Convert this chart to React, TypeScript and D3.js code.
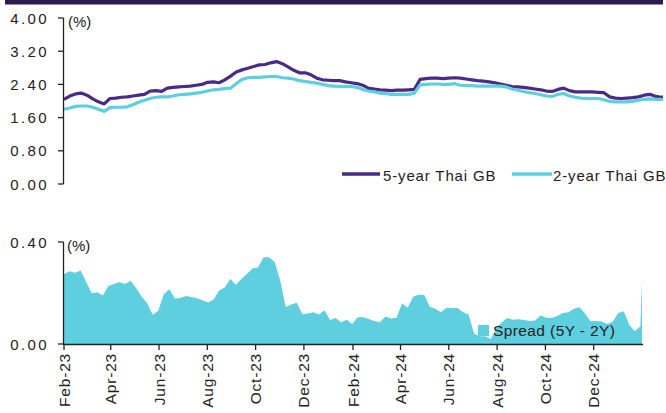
import React from "react";
import * as d3 from "d3";

const dates: string[] = [
  "2023-02-01","2023-02-08","2023-02-15","2023-02-22",
  "2023-03-01","2023-03-08","2023-03-15","2023-03-22","2023-03-29",
  "2023-04-05","2023-04-12","2023-04-19","2023-04-26",
  "2023-05-03","2023-05-10","2023-05-17","2023-05-24","2023-05-31",
  "2023-06-07","2023-06-14","2023-06-21","2023-06-28",
  "2023-07-05","2023-07-12","2023-07-19","2023-07-26",
  "2023-08-02","2023-08-09","2023-08-16","2023-08-23","2023-08-30",
  "2023-09-06","2023-09-13","2023-09-20","2023-09-27",
  "2023-10-04","2023-10-11","2023-10-18","2023-10-25",
  "2023-11-01","2023-11-08","2023-11-15","2023-11-22","2023-11-29",
  "2023-12-06","2023-12-13","2023-12-20","2023-12-27",
  "2024-01-03","2024-01-10","2024-01-17","2024-01-24","2024-01-31",
  "2024-02-07","2024-02-14","2024-02-21","2024-02-28",
  "2024-03-06","2024-03-13","2024-03-20","2024-03-27",
  "2024-04-03","2024-04-10","2024-04-17","2024-04-24",
  "2024-05-01","2024-05-08","2024-05-15","2024-05-22","2024-05-29",
  "2024-06-05","2024-06-12","2024-06-19","2024-06-26",
  "2024-07-03","2024-07-10","2024-07-17","2024-07-24","2024-07-31",
  "2024-08-07","2024-08-14","2024-08-21","2024-08-28",
  "2024-09-04","2024-09-11","2024-09-18","2024-09-25",
  "2024-10-02","2024-10-09","2024-10-16","2024-10-23","2024-10-30",
  "2024-11-06","2024-11-13","2024-11-20","2024-11-27",
  "2024-12-04","2024-12-11","2024-12-18","2024-12-25",
  "2025-01-01","2025-01-08","2025-01-15","2025-01-22","2025-01-29","2025-01-31",
];

const fiveYear: number[] = [
  2.04,2.12,2.17,2.19,2.14,2.05,1.98,1.93,2.06,2.07,
  2.09,2.10,2.12,2.14,2.16,2.24,2.25,2.23,2.31,2.33,
  2.34,2.35,2.36,2.38,2.40,2.45,2.46,2.44,2.51,2.60,
  2.70,2.75,2.79,2.83,2.87,2.88,2.92,2.95,2.90,2.82,
  2.74,2.68,2.68,2.63,2.55,2.51,2.50,2.49,2.49,2.46,
  2.44,2.42,2.38,2.31,2.29,2.27,2.26,2.25,2.26,2.26,
  2.27,2.28,2.52,2.54,2.55,2.55,2.54,2.55,2.56,2.55,
  2.53,2.51,2.49,2.48,2.46,2.44,2.41,2.38,2.35,2.34,
  2.33,2.31,2.29,2.27,2.24,2.23,2.28,2.31,2.25,2.22,
  2.22,2.22,2.22,2.21,2.20,2.10,2.07,2.06,2.07,2.08,
  2.10,2.14,2.16,2.11,2.09,2.10,
];

const twoYear: number[] = [
  1.80,1.83,1.87,1.88,1.88,1.85,1.80,1.75,1.84,1.85,
  1.85,1.86,1.91,1.97,2.02,2.06,2.09,2.10,2.10,2.12,
  2.15,2.16,2.17,2.19,2.21,2.24,2.27,2.28,2.30,2.31,
  2.42,2.52,2.56,2.57,2.57,2.58,2.59,2.59,2.56,2.55,
  2.53,2.49,2.47,2.45,2.43,2.40,2.37,2.36,2.35,2.35,
  2.35,2.33,2.28,2.24,2.22,2.19,2.18,2.16,2.16,2.16,
  2.16,2.19,2.39,2.40,2.41,2.41,2.40,2.40,2.42,2.38,
  2.37,2.37,2.36,2.36,2.36,2.36,2.36,2.34,2.29,2.26,
  2.23,2.20,2.18,2.15,2.12,2.11,2.16,2.18,2.12,2.09,
  2.07,2.06,2.06,2.06,2.03,1.99,1.98,1.98,1.98,1.99,
  2.02,2.04,2.05,2.04,2.04,2.04,
];

const spread: number[] = [
  0.275,0.285,0.279,0.288,0.243,0.199,0.203,0.190,0.227,0.235,
  0.243,0.235,0.248,0.220,0.186,0.160,0.115,0.130,0.195,0.215,
  0.178,0.180,0.188,0.184,0.179,0.172,0.163,0.175,0.210,0.222,
  0.255,0.232,0.255,0.275,0.296,0.300,0.340,0.340,0.323,0.250,
  0.145,0.155,0.162,0.117,0.120,0.125,0.116,0.132,0.094,0.102,
  0.085,0.095,0.078,0.105,0.105,0.098,0.090,0.085,0.108,0.100,
  0.103,0.160,0.142,0.185,0.193,0.192,0.146,0.138,0.125,0.142,
  0.140,0.141,0.125,0.116,0.040,0.030,0.030,0.020,0.062,0.085,
  0.102,0.095,0.097,0.094,0.090,0.092,0.112,0.103,0.102,0.110,
  0.122,0.125,0.138,0.144,0.120,0.089,0.090,0.088,0.078,0.087,
  0.122,0.128,0.075,0.050,0.070,0.247,
];

const topTicks: number[] = [0, 0.8, 1.6, 2.4, 3.2, 4.0];
const bottomTicks: number[] = [0, 0.4];
const xTickDates: string[] = [
  "2023-02-01","2023-04-01","2023-06-01","2023-08-01","2023-10-01","2023-12-01",
  "2024-02-01","2024-04-01","2024-06-01","2024-08-01","2024-10-01","2024-12-01",
];
const xTickLabels: string[] = [
  "Feb-23","Apr-23","Jun-23","Aug-23","Oct-23","Dec-23",
  "Feb-24","Apr-24","Jun-24","Aug-24","Oct-24","Dec-24",
];
const seriesNames: string[] = ["5-year Thai GB", "2-year Thai GB", "Spread (5Y - 2Y)"];

const PURPLE = "#4a2a88";
const CYAN = "#5dcfdf";
const BAND = "#2e1b4c";
const INK = "#222222";
const FONT = "'Liberation Sans', Arial, sans-serif";

export default function App() {
  const parsed = dates.map((d) => new Date(d + "T00:00:00Z"));
  const domain: [Date, Date] = [parsed[0], parsed[parsed.length - 1]];
  const xTop = d3.scaleUtc().domain(domain).range([64, 663]);
  const xBot = d3.scaleUtc().domain(domain).range([64, 642]);
  const yTop = d3.scaleLinear().domain([0, 4]).range([184, 18]);
  const yBot = d3.scaleLinear().domain([0, 0.4]).range([344, 242]);

  const line5 = d3.line<number>().x((_, i) => xTop(parsed[i])).y((v) => yTop(v))(fiveYear) || "";
  const line2 = d3.line<number>().x((_, i) => xTop(parsed[i])).y((v) => yTop(v))(twoYear) || "";
  const area = d3
    .area<number>()
    .x((_, i) => xBot(parsed[i]))
    .y0(yBot(0))
    .y1((v) => yBot(v))(spread) || "";

  const tickFont = { fontFamily: FONT, fontSize: 15, letterSpacing: 2.4, fill: INK } as const;

  return (
    <svg
      width={666}
      height={413}
      viewBox="0 0 666 413"
      style={{ position: "absolute", left: 0, top: 0, background: "#fff" }}
    >
      <rect x={5} y={0} width={658} height={4.5} fill={BAND} />

      {/* top panel */}
      <path d={line5} fill="none" stroke={PURPLE} strokeWidth={3.2} strokeLinejoin="round" />
      <path d={line2} fill="none" stroke={CYAN} strokeWidth={3.2} strokeLinejoin="round" />
      <line x1={63.5} x2={63.5} y1={yTop(4)} y2={yTop(0)} stroke={INK} strokeWidth={1.3} />
      {topTicks.map((t) => (
        <g key={"tt" + t}>
          <line x1={58} x2={63.5} y1={yTop(t)} y2={yTop(t)} stroke={INK} strokeWidth={1.3} />
          <text x={49} y={yTop(t) + 5.5} textAnchor="end" {...tickFont}>
            {t.toFixed(2)}
          </text>
        </g>
      ))}
      <text x={68} y={27} fontFamily={FONT} fontSize={15} fill={INK}>(%)</text>

      {/* top legend */}
      <line x1={342} x2={380} y1={174} y2={174} stroke={PURPLE} strokeWidth={3.5} />
      <text x={383} y={181} fontFamily={FONT} fontSize={15} letterSpacing={0.85} fill={INK}>
        {seriesNames[0]}
      </text>
      <line x1={512} x2={552} y1={174} y2={174} stroke={CYAN} strokeWidth={3.5} />
      <text x={553} y={181} fontFamily={FONT} fontSize={15} letterSpacing={0.85} fill={INK}>
        {seriesNames[1]}
      </text>

      {/* bottom panel */}
      <path d={area} fill={CYAN} stroke="none" />
      <line x1={63.5} x2={63.5} y1={yBot(0.4)} y2={yBot(0)} stroke={INK} strokeWidth={1.3} />
      <line x1={63} x2={643} y1={344.5} y2={344.5} stroke={INK} strokeWidth={1.3} />
      {bottomTicks.map((t) => (
        <g key={"bt" + t}>
          <line x1={58} x2={63.5} y1={yBot(t)} y2={yBot(t)} stroke={INK} strokeWidth={1.3} />
          <text x={49} y={yBot(t) + 5.5} textAnchor="end" {...tickFont}>
            {t.toFixed(2)}
          </text>
        </g>
      ))}
      <text x={67} y={251} fontFamily={FONT} fontSize={15} fill={INK}>(%)</text>
      {xTickDates.map((d, i) => {
        const x = xBot(new Date(d + "T00:00:00Z"));
        return (
          <g key={d}>
            <line x1={x} x2={x} y1={344.5} y2={350} stroke={INK} strokeWidth={1.3} />
            <text
              transform={`translate(${x + 5.5},353) rotate(-90)`}
              textAnchor="end"
              fontFamily={FONT}
              fontSize={15.5}
              letterSpacing={0.8}
              fill={INK}
            >
              {xTickLabels[i]}
            </text>
          </g>
        );
      })}

      {/* bottom legend */}
      <rect x={478} y={325} width={11} height={11} fill={CYAN} />
      <text x={493} y={336} fontFamily={FONT} fontSize={15.5} letterSpacing={0.4} fill={INK}>
        {seriesNames[2]}
      </text>
    </svg>
  );
}
